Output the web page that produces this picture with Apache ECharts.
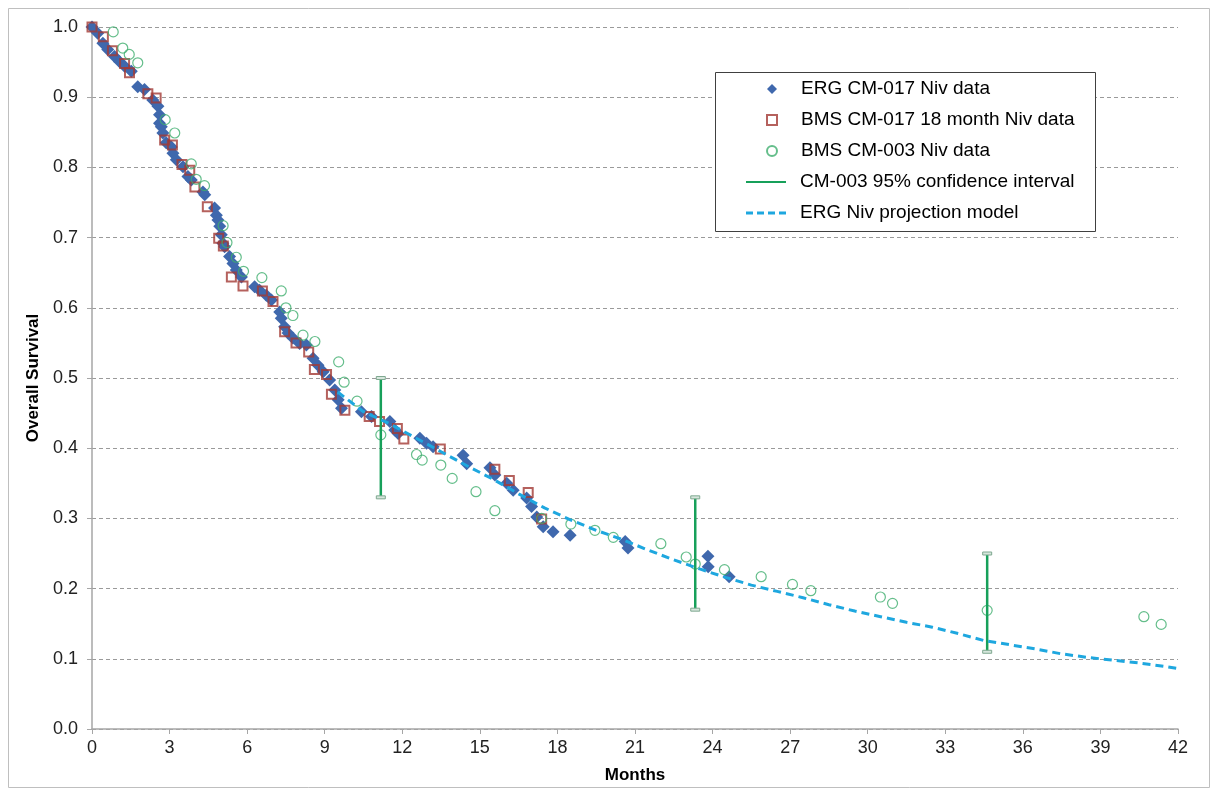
<!DOCTYPE html>
<html>
<head>
<meta charset="utf-8">
<title>Overall Survival</title>
<script src="https://cdn.jsdelivr.net/npm/echarts@6/dist/echarts.min.js"></script>
<style>
  html, body { margin: 0; padding: 0; background: #fff; }
  #chart { width: 1218px; height: 796px; }
</style>
</head>
<body>
<div id="chart"></div>
<script>
  // [month, survival]
  const ergCm017 = [
    [0, 1.0], [0.22, 0.991], [0.42, 0.977], [0.61, 0.968], [0.87, 0.958], [1.06, 0.951],
    [1.26, 0.944], [1.52, 0.937], [1.77, 0.915], [2.03, 0.911], [2.35, 0.896], [2.55, 0.887],
    [2.61, 0.875], [2.61, 0.863], [2.68, 0.858], [2.74, 0.849], [2.87, 0.835], [3.07, 0.829],
    [3.13, 0.82], [3.26, 0.811], [3.52, 0.801], [3.71, 0.787], [3.84, 0.782], [4.29, 0.765],
    [4.36, 0.761], [4.74, 0.742], [4.81, 0.732], [4.87, 0.725], [4.94, 0.716], [5.0, 0.704],
    [5.06, 0.692], [5.13, 0.687], [5.32, 0.673], [5.45, 0.663], [5.58, 0.654], [5.78, 0.644],
    [6.29, 0.63], [6.48, 0.625], [6.74, 0.618], [6.94, 0.611], [7.26, 0.594], [7.32, 0.585],
    [7.45, 0.573], [7.58, 0.564], [7.77, 0.557], [8.03, 0.549], [8.29, 0.547], [8.55, 0.528],
    [8.74, 0.518], [8.94, 0.509], [9.19, 0.497], [9.39, 0.483], [9.52, 0.469], [9.65, 0.457],
    [10.42, 0.452], [10.81, 0.445], [11.52, 0.438], [11.71, 0.426], [11.84, 0.421], [12.68, 0.414],
    [12.94, 0.407], [13.19, 0.402], [14.35, 0.39], [14.49, 0.378], [15.39, 0.372], [15.58, 0.362],
    [16.04, 0.35], [16.29, 0.34], [16.81, 0.329], [17.0, 0.317], [17.2, 0.302], [17.45, 0.288],
    [17.83, 0.281], [18.49, 0.276], [20.62, 0.267], [20.73, 0.258], [23.82, 0.246], [23.83, 0.231],
    [24.64, 0.217]
  ]
  const bmsCm017 = [
    [0, 1.0], [0.44, 0.986], [0.79, 0.966], [1.26, 0.948], [1.45, 0.935], [2.16, 0.905],
    [2.48, 0.899], [2.81, 0.839], [3.11, 0.832], [3.48, 0.804], [3.78, 0.796], [3.98, 0.772],
    [4.46, 0.744], [4.9, 0.699], [5.08, 0.688], [5.39, 0.644], [5.84, 0.631], [6.59, 0.624],
    [7.0, 0.609], [7.45, 0.566], [7.89, 0.55], [8.38, 0.537], [8.6, 0.512], [9.07, 0.505],
    [9.26, 0.477], [9.78, 0.454], [10.72, 0.445], [11.12, 0.438], [11.81, 0.428], [12.06, 0.413],
    [13.47, 0.399], [15.58, 0.37], [16.14, 0.354], [16.87, 0.337], [17.39, 0.299]
  ]
  const bmsCm003 = [
    [0.82, 0.993], [1.19, 0.97], [1.44, 0.961], [1.77, 0.949], [2.83, 0.868], [3.2, 0.849],
    [3.84, 0.805], [4.03, 0.783], [4.35, 0.774], [5.07, 0.717], [5.22, 0.693], [5.58, 0.672],
    [5.86, 0.652], [6.57, 0.643], [7.32, 0.624], [7.5, 0.6], [7.77, 0.589], [8.16, 0.561],
    [8.62, 0.552], [9.54, 0.523], [9.75, 0.494], [10.25, 0.467], [11.17, 0.419], [12.55, 0.391],
    [12.77, 0.383], [13.49, 0.376], [13.93, 0.357], [14.85, 0.338], [15.58, 0.311], [17.39, 0.3],
    [18.52, 0.292], [19.45, 0.283], [20.16, 0.273], [22.0, 0.264], [22.98, 0.245], [23.33, 0.235],
    [24.46, 0.227], [25.88, 0.217], [27.09, 0.206], [27.8, 0.197], [30.49, 0.188], [30.96, 0.179],
    [34.62, 0.169], [40.68, 0.16], [41.35, 0.149]
  ]
  // [month, lower, upper]
  const ciBars = [
    [11.17, 0.33, 0.5],
    [23.33, 0.17, 0.33],
    [34.62, 0.11, 0.25]
  ]
  const projection = [
    [9.5, 0.48], [10.5, 0.452], [11.5, 0.435], [12.5, 0.415], [13.5, 0.395], [14.5, 0.375],
    [15.5, 0.356], [16.5, 0.335], [17.5, 0.315], [18.5, 0.298], [19.5, 0.283], [20.5, 0.27],
    [21.5, 0.255], [22.5, 0.241], [23.5, 0.228], [24.5, 0.216], [25.5, 0.205], [26.5, 0.196],
    [27.5, 0.187], [28.5, 0.177], [29.5, 0.168], [30.5, 0.16], [31.5, 0.152], [32.5, 0.145],
    [33.5, 0.136], [34.5, 0.126], [35.5, 0.12], [36.5, 0.114], [37.5, 0.107], [38.5, 0.102],
    [39.5, 0.098], [40.5, 0.094], [41.5, 0.089], [42, 0.086]
  ]
  const seriesNames = [
    'ERG CM-017 Niv data',
    'BMS CM-017 18 month Niv data',
    'BMS CM-003 Niv data',
    'CM-003 95% confidence interval',
    'ERG Niv projection model'
  ]

  const font = 'Arial, "Liberation Sans", sans-serif'
  const legendText = {
    fontFamily: font,
    fontSize: 19,
    color: '#000',
    lineHeight: 20
  }
  const myChart = echarts.init(document.getElementById('chart'), null, { renderer: 'canvas' })

  const option = {
    animation: false,
    backgroundColor: '#fff',
    textStyle: { fontFamily: font },
    graphic: [
      {
        type: 'rect',
        shape: { x: 8.5, y: 8.5, width: 1201, height: 779 },
        style: { fill: 'none', stroke: '#bfbfbf', lineWidth: 1 },
        silent: true
      },
      {
        type: 'rect',
        z: 10,
        shape: { x: 715.5, y: 72.5, width: 380, height: 159 },
        style: { fill: '#fff', stroke: '#404040', lineWidth: 1 },
        silent: true
      }
    ],
    grid: {
      left: 92,
      right: 40,
      top: 27,
      bottom: 67,
      containLabel: false
    },
    legend: [
      {
        // marker entries
        orient: 'vertical',
        left: 766,
        top: 79,
        z: 11,
        padding: 0,
        itemWidth: 10,
        itemHeight: 10,
        itemGap: 11,
        textStyle: Object.assign({ padding: [0, 0, 0, 19] }, legendText),
        data: [
          { name: seriesNames[0], icon: 'diamond' },
          { name: seriesNames[1], icon: 'rect' },
          { name: seriesNames[2], icon: 'circle' }
        ]
      },
      {
        // line entries
        orient: 'vertical',
        left: 746,
        top: 172,
        z: 11,
        padding: 0,
        itemWidth: 40,
        itemHeight: 3,
        itemGap: 11,
        textStyle: Object.assign({ padding: [0, 0, 0, 9] }, legendText),
        data: [
          { name: seriesNames[3], icon: 'path://M0,0L40,0L40,2L0,2Z' },
          { name: seriesNames[4], icon: 'path://M0,0h7v3h-7zM11,0h7v3h-7zM22,0h7v3h-7zM33,0h7v3h-7z' }
        ]
      }
    ],
    xAxis: {
      type: 'value',
      min: 0,
      max: 42,
      interval: 3,
      name: 'Months',
      nameLocation: 'middle',
      nameGap: 38,
      nameTextStyle: { fontFamily: font, fontSize: 17, fontWeight: 'bold', color: '#000' },
      axisLine: { lineStyle: { color: '#a6a6a6', width: 1.5 } },
      axisTick: { show: true, length: 5, lineStyle: { color: '#a6a6a6' } },
      axisLabel: { color: '#222', fontSize: 18, margin: 10, fontFamily: font },
      splitLine: { show: false }
    },
    yAxis: {
      type: 'value',
      min: 0,
      max: 1,
      interval: 0.1,
      name: 'Overall Survival',
      nameLocation: 'middle',
      nameGap: 50,
      nameTextStyle: { fontFamily: font, fontSize: 17, fontWeight: 'bold', color: '#000' },
      axisLine: { show: true, lineStyle: { color: '#a6a6a6', width: 1.5 } },
      axisTick: { show: true, length: 5, lineStyle: { color: '#a6a6a6' } },
      axisLabel: {
        color: '#222',
        fontSize: 18,
        margin: 14,
        fontFamily: font,
        formatter: function (v) { return v.toFixed(1) }
      },
      splitLine: {
        show: true,
        lineStyle: { color: '#9a9a9a', type: [4, 3], width: 1 }
      }
    },
    series: [
      {
        name: seriesNames[0],
        type: 'scatter',
        data: ergCm017,
        symbol: 'diamond',
        symbolSize: 13,
        itemStyle: { color: '#3f68ad', opacity: 1 },
        z: 2
      },
      {
        name: seriesNames[1],
        type: 'scatter',
        data: bmsCm017,
        symbol: 'rect',
        symbolSize: 9,
        itemStyle: { color: 'rgba(255,255,255,0)', borderColor: '#a33a35', borderWidth: 2 },
        z: 3
      },
      {
        name: seriesNames[2],
        type: 'scatter',
        data: bmsCm003,
        symbol: 'circle',
        symbolSize: 10,
        itemStyle: { color: 'rgba(255,255,255,0)', borderColor: '#3fae6e', borderWidth: 1.2 },
        z: 4
      },
      {
        name: seriesNames[3],
        type: 'custom',
        data: ciBars,
        itemStyle: { color: '#17a05a' },
        encode: { x: 0, y: [1, 2] },
        z: 5,
        renderItem: function (params, api) {
          const lo = api.coord([api.value(0), api.value(1)])
          const hi = api.coord([api.value(0), api.value(2)])
          return {
            type: 'group',
            children: [
              {
                type: 'line',
                shape: { x1: lo[0], y1: lo[1], x2: hi[0], y2: hi[1] },
                style: { stroke: '#17a05a', lineWidth: 2.5 }
              },
              {
                type: 'rect',
                shape: { x: lo[0] - 4.5, y: lo[1] - 1.5, width: 9, height: 3 },
                style: { fill: '#d6e6dc', stroke: '#7fa890', lineWidth: 1 }
              },
              {
                type: 'rect',
                shape: { x: hi[0] - 4.5, y: hi[1] - 1.5, width: 9, height: 3 },
                style: { fill: '#d6e6dc', stroke: '#7fa890', lineWidth: 1 }
              }
            ]
          }
        }
      },
      {
        name: seriesNames[4],
        type: 'line',
        data: projection,
        symbol: 'none',
        smooth: false,
        lineStyle: { color: '#1ea7df', width: 3, type: [8, 5] },
        itemStyle: { color: '#1ea7df' },
        z: 6
      }
    ]
  }
  myChart.setOption(option)
</script>
</body>
</html>
